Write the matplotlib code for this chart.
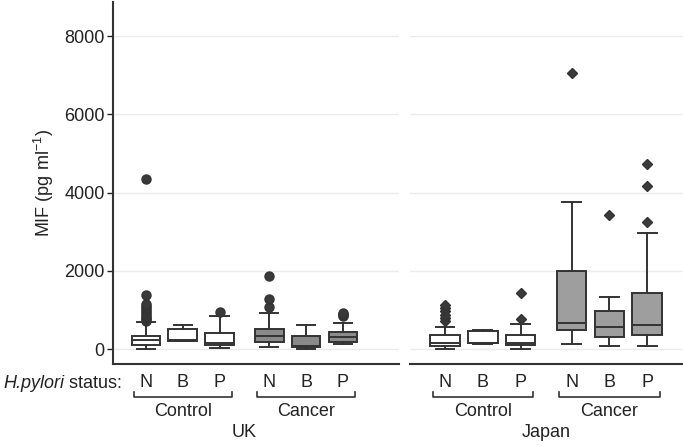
import numpy as np
import matplotlib
matplotlib.use("Agg")
import matplotlib.pyplot as plt

plt.rcParams['font.family'] = ['Liberation Sans', 'DejaVu Sans']
plt.rcParams['mathtext.fontset'] = 'custom'
plt.rcParams['mathtext.rm'] = 'Liberation Sans'
plt.rcParams['mathtext.it'] = 'Liberation Sans:italic'

# ---- data ----
status = ['N', 'B', 'P', 'N', 'B', 'P']
groups = ['Control', 'Cancer']
countries = ['UK', 'Japan']

uk_q1 = [100, 212, 102, 187, 43, 170]
uk_med = [230, 225, 160, 332, 80, 315]
uk_q3 = [340, 503, 417, 503, 340, 443]
uk_whislo = [0, 205, 18, 60, 13, 128]
uk_whishi = [690, 613, 843, 912, 613, 673]
uk_fliers = [[720, 760, 800, 850, 900, 950, 1000, 1050, 1100, 1150, 1380, 4350],
             [], [953], [1065, 1278, 1866], [], [840, 870, 900, 930]]

jp_q1 = [77, 145, 102, 486, 298, 358]
jp_med = [145, 160, 162, 673, 555, 613]
jp_q3 = [358, 468, 358, 2001, 979, 1423]
jp_whislo = [0, 140, 0, 128, 85, 85]
jp_whishi = [555, 480, 631, 3765, 1337, 2973]
jp_fliers = [[720, 800, 880, 960, 1040, 1120], [], [758, 1423], [7046], [3425], [3238, 4174, 4728]]

positions = [1, 2, 3, 4.35, 5.35, 6.35]
dark = '#333333'
txt = '#222222'
fs = 13


def make_stats(q1, med, q3, lo, hi, fl):
    out = []
    for i in range(len(q1)):
        out.append(dict(q1=q1[i], med=med[i], q3=q3[i], whislo=lo[i], whishi=hi[i],
                        fliers=fl[i], mean=med[i]))
    return out


fig = plt.figure(figsize=(6.83, 4.46), dpi=100)
ax_uk = fig.add_axes([113 / 683, 82 / 446, 286 / 683, 362 / 446])
ax_jp = fig.add_axes([410 / 683, 82 / 446, 273 / 683, 362 / 446])

panels = [
    (ax_uk, make_stats(uk_q1, uk_med, uk_q3, uk_whislo, uk_whishi, uk_fliers),
     ['white'] * 3 + ['#8a8a8a'] * 3, 'o', (0.103, 7.875)),
    (ax_jp, make_stats(jp_q1, jp_med, jp_q3, jp_whislo, jp_whishi, jp_fliers),
     ['white'] * 3 + ['#9e9e9e'] * 3, 'D', (0.073, 7.30)),
]

for ax, stats, fills, mk, xl in panels:
    bp = ax.bxp(stats, positions=positions, widths=0.78, capwidths=0.5, patch_artist=True,
                showmeans=False,
                boxprops=dict(edgecolor=dark, linewidth=1.4),
                medianprops=dict(color=dark, linewidth=1.4),
                whiskerprops=dict(color=dark, linewidth=1.4),
                capprops=dict(color=dark, linewidth=1.4),
                flierprops=dict(marker=mk, markerfacecolor='#3a3a3a', markeredgecolor=dark,
                                markersize=6.5 if mk == 'o' else 5.5, linestyle='none'))
    for patch, c in zip(bp['boxes'], fills):
        patch.set_facecolor(c)
    ax.set_xlim(*xl)
    ax.set_ylim(-383, 8869)
    ax.set_yticks([0, 2000, 4000, 6000, 8000])
    ax.yaxis.grid(True, color='#ebebeb', linewidth=1.0)
    ax.set_axisbelow(True)
    ax.set_xticks(positions)
    ax.set_xticklabels(status, fontsize=fs)
    ax.tick_params(axis='x', length=0, pad=7, colors=txt)
    for s in ['top', 'right']:
        ax.spines[s].set_visible(False)
    ax.spines['bottom'].set_color(dark)
    ax.spines['bottom'].set_linewidth(1.5)

ax_uk.spines['left'].set_color(dark)
ax_uk.spines['left'].set_linewidth(1.5)
ax_uk.tick_params(axis='y', labelsize=fs, colors=txt, length=4, width=1.0, pad=2)
ax_uk.set_ylabel('MIF (pg ml$^{-1}$)', fontsize=fs, color=txt, labelpad=6)

ax_jp.spines['left'].set_visible(False)
ax_jp.tick_params(axis='y', left=False, labelleft=False)

# brackets and group labels below the axes
for ax, country in zip([ax_uk, ax_jp], countries):
    tr = ax.get_xaxis_transform()
    for g, name in enumerate(groups):
        x0 = positions[3 * g] - 0.33
        x1 = positions[3 * g + 2] + 0.33
        ax.plot([x0, x0, x1, x1], [-0.077, -0.091, -0.091, -0.077], transform=tr,
                color=dark, linewidth=1.2, clip_on=False)
        ax.text((positions[3 * g] + positions[3 * g + 2]) / 2, -0.130, name, transform=tr,
                ha='center', va='center', fontsize=fs, color=txt)
    ax.text((positions[0] + positions[-1]) / 2, -0.189, country, transform=tr,
            ha='center', va='center', fontsize=fs, color=txt)

# "H.pylori status:" with the species name in italics
ylab = (446 - 383) / 446
t2 = fig.text(122 / 683, ylab, ' status:', ha='right', va='center', fontsize=fs, color=txt)
renderer = fig.canvas.get_renderer()
w2 = t2.get_window_extent(renderer).width
fig.text((122 - w2) / 683, ylab, 'H.pylori', ha='right', va='center', fontsize=fs,
         color=txt, style='italic')

fig.savefig('out.png', dpi=100)
